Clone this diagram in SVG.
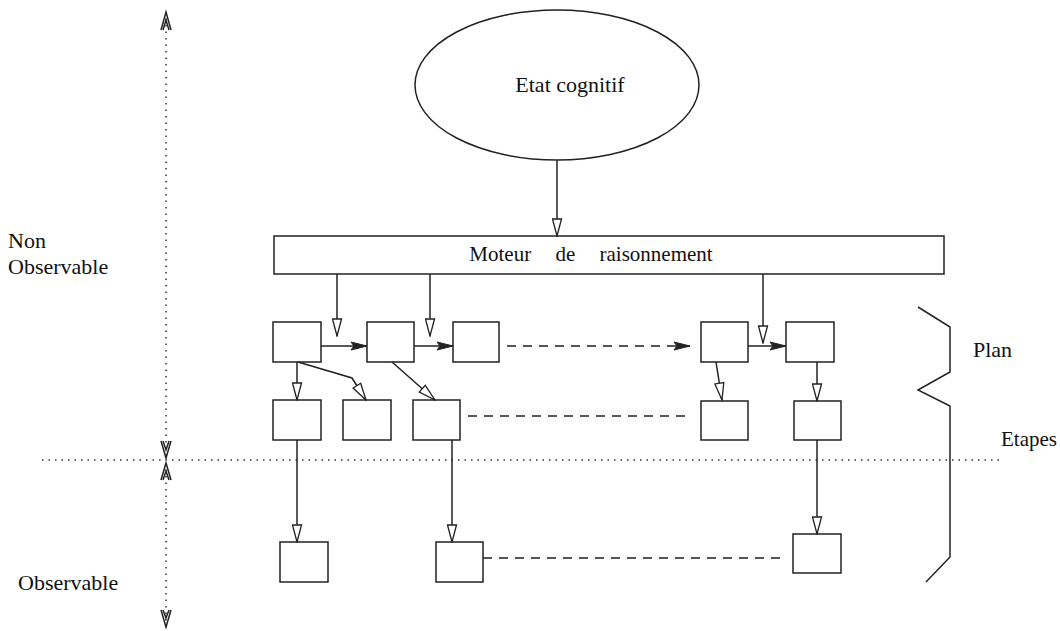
<svg xmlns="http://www.w3.org/2000/svg" width="1060" height="631" viewBox="0 0 1060 631">
<style>
.t{font-family:'Liberation Serif','Times New Roman',Times,serif;font-size:22px;fill:#111}
.box{fill:#fff;stroke:#222;stroke-width:1.5}
.ln{stroke:#222;stroke-width:1.5;fill:none}
.dash{stroke:#222;stroke-width:1.5;stroke-dasharray:9,7;fill:none}
.dot{stroke:#333;stroke-width:1.5;stroke-dasharray:1.5,5;fill:none}
.open{marker-end:url(#open)}
.fill{marker-end:url(#filled)}
</style>
<defs>
<marker id="open" markerWidth="19" markerHeight="11" refX="18" refY="5.5" orient="auto" markerUnits="userSpaceOnUse" viewBox="0 0 19 11">
<path d="M1,1 L18,5.5 L1,10 Z" fill="#fff" stroke="#222" stroke-width="1.3"/>
</marker>
<marker id="filled" markerWidth="18" markerHeight="10" refX="17" refY="5" orient="auto" markerUnits="userSpaceOnUse" viewBox="0 0 18 10">
<path d="M1,1 L17,5 L1,9 L4,5 Z" fill="#222" stroke="#222" stroke-width="1"/>
</marker>
</defs>

<g id="axis">
<line class="dot" x1="166" y1="12" x2="166" y2="456"/>
<line class="dot" x1="166" y1="463" x2="166" y2="627"/>
<path d="M161,30 L166,12 L171,30 M163,30 L166,20 L169,30" class="ln" stroke-width="1.2"/>
<path d="M161,441 L166,458 L171,441 M163,441 L166,450 L169,441" class="ln" stroke-width="1.2"/>
<path d="M161,480 L166,463 L171,480 M163,480 L166,471 L169,480" class="ln" stroke-width="1.2"/>
<path d="M161,610 L166,627 L171,610 M163,610 L166,618 L169,610" class="ln" stroke-width="1.2"/>
<line class="dot" x1="42" y1="460" x2="1000" y2="460"/>
</g>

<g id="labels">
<text class="t" x="8" y="248">Non</text>
<text class="t" x="8" y="274">Observable</text>
<text class="t" x="18" y="590">Observable</text>
<text class="t" x="973" y="357">Plan</text>
<text class="t" x="1057" y="446" text-anchor="end" style="font-size:21px">Etapes</text>
</g>

<g id="brace">
<path class="ln" d="M918,307 L950,327 L950,372 L918,390 L950,406 L950,557 L926,582"/>
</g>

<g id="etat">
<ellipse cx="557" cy="85" rx="142" ry="75" class="box"/>
<text class="t" x="570" y="92" text-anchor="middle">Etat cognitif</text>
</g>

<g id="moteur">
<rect x="274" y="236" width="670" height="38" class="box"/>
<text class="t" x="591" y="261" text-anchor="middle" style="font-size:21px" word-spacing="19">Moteur de raisonnement</text>
</g>

<g id="p1"><rect class="box" x="273" y="322" width="48" height="40"/></g>
<g id="p2"><rect class="box" x="367" y="322" width="47" height="40"/></g>
<g id="p3"><rect class="box" x="453" y="322" width="46" height="40"/></g>
<g id="p4"><rect class="box" x="701" y="322" width="47" height="40"/></g>
<g id="p5"><rect class="box" x="786" y="322" width="48" height="40"/></g>

<g id="e1"><rect class="box" x="273" y="400" width="48" height="40"/></g>
<g id="e2"><rect class="box" x="343" y="400" width="48" height="40"/></g>
<g id="e3"><rect class="box" x="413" y="400" width="47" height="40"/></g>
<g id="e4"><rect class="box" x="701" y="401" width="47" height="39"/></g>
<g id="e5"><rect class="box" x="794" y="401" width="47" height="39"/></g>

<g id="o1"><rect class="box" x="280" y="542" width="48" height="40"/></g>
<g id="o2"><rect class="box" x="436" y="542" width="47" height="40"/></g>
<g id="o3"><rect class="box" x="793" y="534" width="48" height="39"/></g>

<g id="connectors">
<line class="ln open" x1="557" y1="160" x2="557" y2="236"/>
<line class="ln open" x1="337" y1="274" x2="337" y2="336"/>
<line class="ln open" x1="430" y1="274" x2="430" y2="336"/>
<line class="ln open" x1="763" y1="274" x2="763" y2="343"/>
<line class="ln fill" x1="321" y1="346" x2="367" y2="346"/>
<line class="ln fill" x1="414" y1="346" x2="453" y2="346"/>
<line class="dash fill" x1="507" y1="346" x2="690" y2="346"/>
<line class="ln fill" x1="748" y1="346" x2="786" y2="346"/>
<line class="ln open" x1="297" y1="362" x2="297" y2="400"/>
<polyline class="ln open" points="298,362 352,378 366,400"/>
<line class="ln open" x1="392" y1="362" x2="435" y2="400"/>
<line class="ln open" x1="716" y1="362" x2="722" y2="400"/>
<line class="ln open" x1="817" y1="362" x2="817" y2="401"/>
<line class="dash" x1="468" y1="416" x2="692" y2="416"/>
<line class="ln open" x1="297" y1="440" x2="297" y2="542"/>
<line class="ln open" x1="452" y1="440" x2="452" y2="542"/>
<line class="ln open" x1="817" y1="440" x2="817" y2="534"/>
<line class="dash" x1="483" y1="558" x2="786" y2="558"/>
</g>
</svg>
